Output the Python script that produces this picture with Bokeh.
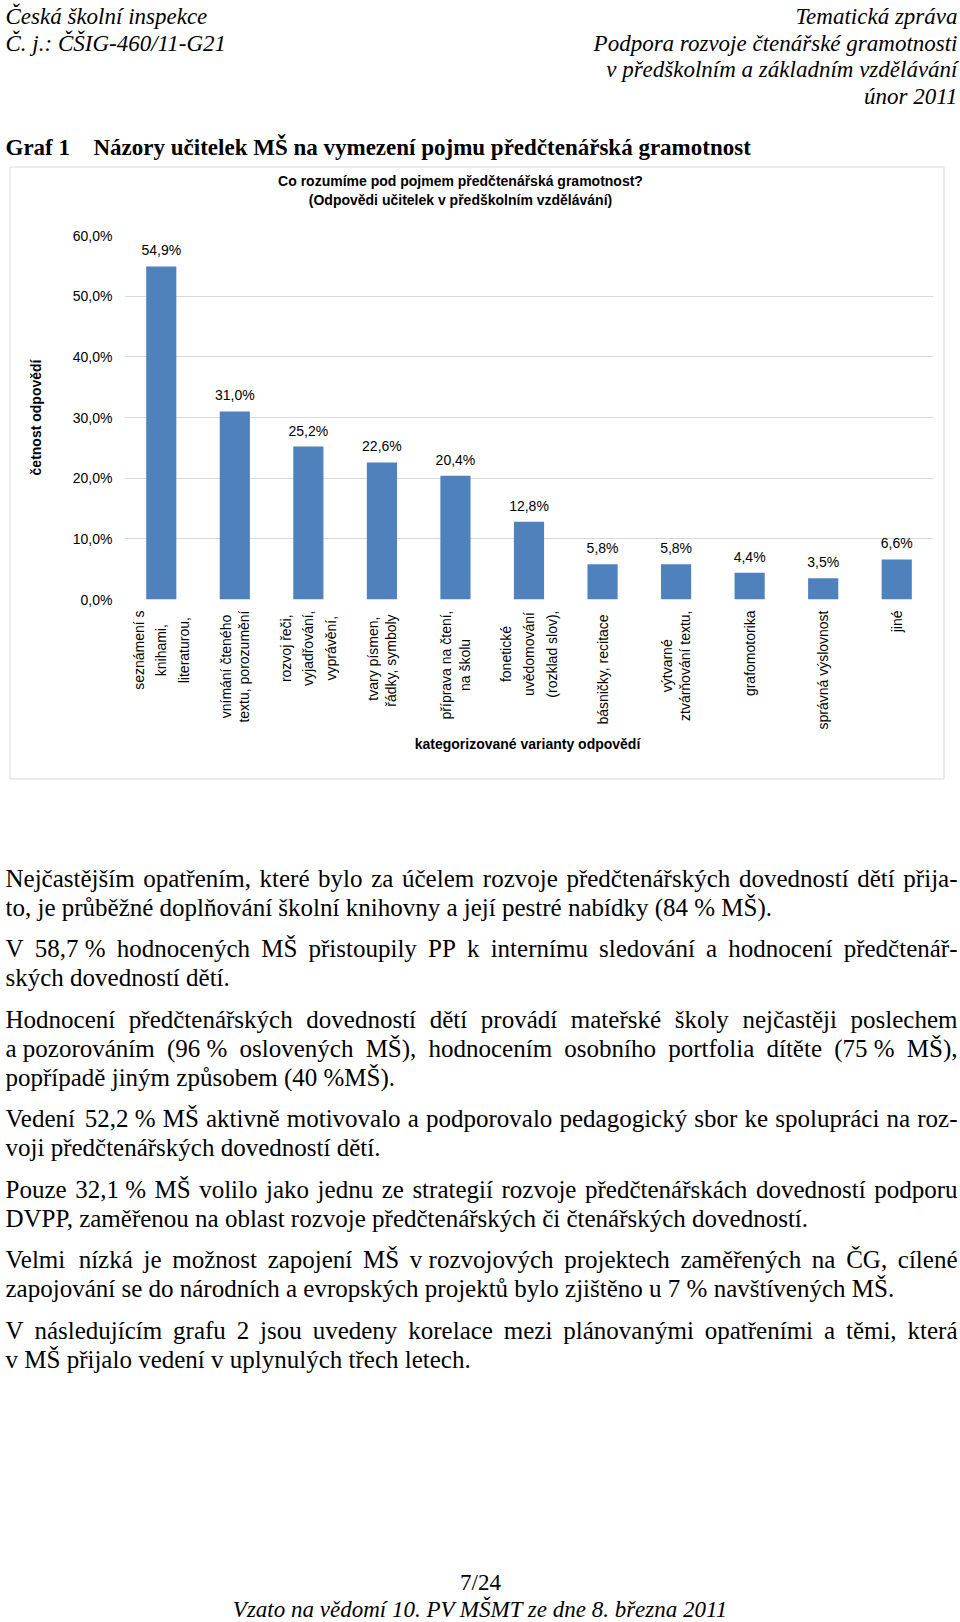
import math
import unicodedata
from bokeh.plotting import figure
from bokeh.models import (Range1d, FixedTicker, ColumnDataSource, CustomJSTickFormatter)
from bokeh.core.properties import value
from bokeh.embed import file_html
from bokeh.resources import INLINE

# ---------------- data ----------------
categories = [
    "seznámení s knihami, literaturou,",
    "vnímání čteného textu, porozumění",
    "rozvoj řeči, vyjadřování, vyprávění,",
    "tvary písmen, řádky, symboly",
    "příprava na čtení, na školu",
    "fonetické uvědomování (rozklad slov),",
    "básničky, recitace",
    "výtvarné ztvárňování textu,",
    "grafomotorika",
    "správná výslovnost",
    "jiné",
]
category_lines = [
    ["seznámení s", "knihami,", "literaturou,"],
    ["vnímání čteného", "textu, porozumění"],
    ["rozvoj řeči,", "vyjadřování,", "vyprávění,"],
    ["tvary písmen,", "řádky,  symboly"],
    ["příprava na čtení,", "na školu"],
    ["fonetické", "uvědomování", "(rozklad slov),"],
    ["básničky,  recitace"],
    ["výtvarné", "ztvárňování textu,"],
    ["grafomotorika"],
    ["správná výslovnost"],
    ["jiné"],
]
values = [54.9, 31.0, 25.2, 22.6, 20.4, 12.8, 5.8, 5.8, 4.4, 3.5, 6.6]
yticks = [0, 10, 20, 30, 40, 50, 60]

chart_title = ["Co rozumíme pod pojmem předčtenářská gramotnost?",
               "(Odpovědi učitelek v předškolním vzdělávání)"]
y_title = "četnost odpovědí"
x_title = "kategorizované varianty odpovědí"

header_left = ["Česká školní inspekce", "Č. j.: ČŠIG-460/11-G21"]
header_right = ["Tematická zpráva", "Podpora rozvoje čtenářské gramotnosti",
                "v předškolním a základním vzdělávání", "únor 2011"]
graf_label = "Graf 1"
graf_title = "Názory učitelek MŠ na vymezení pojmu předčtenářská gramotnost"

NB = "\u00a0"
paragraphs = [
    ["Nejčastějším opatřením, které bylo za účelem rozvoje předčtenářských dovedností dětí přija-",
     "to, je průběžné doplňování školní knihovny a její pestré nabídky (84" + NB + "% MŠ)."],
    ["V 58,7" + NB + "% hodnocených MŠ přistoupily PP k internímu sledování a hodnocení předčtenář-",
     "ských dovedností dětí."],
    ["Hodnocení předčtenářských dovedností dětí provádí mateřské školy nejčastěji poslechem",
     "a" + NB + "pozorováním (96" + NB + "% oslovených MŠ), hodnocením osobního portfolia dítěte (75" + NB + "% MŠ),",
     "popřípadě jiným způsobem (40" + NB + "%MŠ)."],
    ["Vedení 52,2" + NB + "% MŠ aktivně motivovalo a podporovalo pedagogický sbor ke spolupráci na roz-",
     "voji předčtenářských dovedností dětí."],
    ["Pouze 32,1" + NB + "% MŠ volilo jako jednu ze strategií rozvoje předčtenářskách dovedností podporu",
     "DVPP, zaměřenou na oblast rozvoje předčtenářských či čtenářských dovedností."],
    ["Velmi nízká je možnost zapojení MŠ v" + NB + "rozvojových projektech zaměřených na ČG, cílené",
     "zapojování se do národních a evropských projektů bylo zjištěno u 7" + NB + "% navštívených MŠ."],
    ["V následujícím grafu 2 jsou uvedeny korelace mezi plánovanými opatřeními a těmi, která",
     "v" + NB + "MŠ přijalo vedení v uplynulých třech letech."],
]
page_number = "7/24"
footer = "Vzato na vědomí 10. PV MŠMT ze dne 8. března 2011"

# ---------------- layout constants (page pixels; canvas starts at 0,0) ----------------
W, H = 960, 1622
FL, FR, FT, FB = 124, 933, 235, 599
BAR = "#4f81bd"
GRID = "#d9d9d9"
SANS = "Liberation Sans"
SERIF = "Liberation Serif"

# Times New Roman advance widths (1/1000 em), Liberation Serif is metric compatible
TNR = {' ': 250, NB: 250, '!': 333, '%': 833, '(': 333, ')': 333, ',': 250, '-': 333,
       '.': 250, '/': 278, ':': 278, '?': 444}
for d in "0123456789":
    TNR[d] = 500
TNR.update(dict(zip("ABCDEFGHIJKLMNOPQRSTUVWXYZ",
                    [722, 667, 667, 722, 611, 556, 722, 722, 333, 389, 722, 611, 889,
                     722, 722, 556, 722, 667, 556, 611, 722, 722, 944, 722, 722, 611])))
TNR.update(dict(zip("abcdefghijklmnopqrstuvwxyz",
                    [444, 500, 444, 500, 444, 333, 500, 500, 278, 278, 500, 278, 778,
                     500, 500, 500, 500, 333, 389, 278, 500, 500, 722, 500, 500, 444])))
SPECIAL = {'ď': 588, 'ť': 326}


def tnr_width(s, size):
    tot = 0
    for ch in s:
        if ch in SPECIAL:
            tot += SPECIAL[ch]
            continue
        base = unicodedata.normalize("NFD", ch)[0]
        tot += TNR.get(base, 500)
    return tot * size / 1000.0


# ---------------- figure ----------------
n = len(categories)
xpos = [i + 0.5 for i in range(n)]   # category slots on the x scale

p = figure(width=W, height=H, x_range=Range1d(0, n), y_range=Range1d(0, 60),
           output_backend="svg", toolbar_location=None, x_axis_location=None,
           min_border_left=FL, min_border_right=W - FR,
           min_border_top=FT, min_border_bottom=H - FB)
p.extra_x_ranges = {"px": Range1d(FL, FR)}
p.extra_y_ranges = {"px": Range1d(FB, FT)}
p.outline_line_color = None
p.background_fill_color = "white"
p.border_fill_color = "white"
p.xgrid.visible = False
p.ygrid.ticker = FixedTicker(ticks=yticks)
p.ygrid.grid_line_color = GRID
p.ygrid.grid_line_width = 1

ax = p.yaxis[0]
ax.ticker = FixedTicker(ticks=yticks)
ax.formatter = CustomJSTickFormatter(code="return tick.toFixed(1).replace('.', ',') + '%';")
ax.axis_line_color = None
ax.major_tick_line_color = None
ax.minor_tick_line_color = None
ax.major_tick_out = 0
ax.major_tick_in = 0
ax.major_label_standoff = 12
ax.major_label_text_font = SANS
ax.major_label_text_font_size = "14px"
ax.major_label_text_color = "#000000"
ax.axis_label = y_title
ax.axis_label_text_font = SANS
ax.axis_label_text_font_size = "14px"
ax.axis_label_text_font_style = "bold"
ax.axis_label_text_color = "#000000"
ax.axis_label_standoff = 26

# outer chart box
p.quad(left=9.5, right=943.5, top=166.5, bottom=778.5, fill_color=None, line_color=GRID,
       line_width=1, x_range_name="px", y_range_name="px", level="overlay")

# bars
src = ColumnDataSource(dict(x=xpos, cat=categories, val=values,
                            lab=[f"{v:.1f}".replace(".", ",") + "%" for v in values]))
p.vbar(x="x", top="val", width=0.41, source=src, fill_color=BAR, line_color=None)
p.text(x="x", y="val", text="lab", source=src, text_align="center", text_baseline="middle",
       y_offset=-16, text_font=value(SANS), text_font_size="14px", text_color="#000000",
       level="overlay")

# category labels (rotated)
for nlines, lh in ((3, 1.42), (2, 1.15), (1, 1.15)):
    idx = [i for i, l in enumerate(category_lines) if len(l) == nlines]
    if not idx:
        continue
    s = ColumnDataSource(dict(x=[xpos[i] for i in idx], y=[0] * len(idx),
                              lab=["\n".join(category_lines[i]) for i in idx]))
    p.text(x="x", y="y", text="lab", source=s, angle=math.pi / 2, anchor="center_right",
           text_align="center", text_baseline="middle", y_offset=11,
           text_font=value(SANS), text_font_size="14px", text_color="#000000",
           text_line_height=lh, level="overlay")


def page_text(xs, ys, texts, align="left", baseline="alphabetic", font=SERIF, size="23px",
              style="normal"):
    s = ColumnDataSource(dict(x=xs, y=ys, t=texts))
    p.text(x="x", y="y", text="t", source=s, text_align=align, text_baseline=baseline,
           text_font=value(font), text_font_size=size, text_font_style=style,
           text_color="#000000", x_range_name="px", y_range_name="px", level="overlay")


# header
page_text([5, 5], [16, 42.5], header_left, style="italic")
page_text([957] * 4, [16, 42.5, 69, 95.5], header_right, align="right", style="italic")
page_text([5, 93], [147, 147], [graf_label, graf_title], style="bold")

# chart titles
page_text([460, 460], [180, 199], chart_title, align="center", baseline="middle",
          font=SANS, size="14px", style="bold")
page_text([527], [743], [x_title], align="center", baseline="middle",
          font=SANS, size="14px", style="bold")

# body text (justified)
BODY = 25
X0, X1 = 5, 957
para_top = [878, 947.5, 1018.5, 1117.5, 1188.5, 1258.5, 1329.5]
LS = 29
jx, jy, jt, rx, ry, rt = [], [], [], [], [], []
for top, lines in zip(para_top, paragraphs):
    for k, line in enumerate(lines):
        y = top + k * LS
        if k == len(lines) - 1:
            jx.append(X0); jy.append(y); jt.append(line)
            continue
        words = line.split(" ")
        ws = [tnr_width(w, BODY) for w in words]
        gap = (X1 - X0 - sum(ws)) / (len(words) - 1)
        gap = max(gap, 0.15 * BODY)
        x = X0
        for w, wd in zip(words[:-1], ws[:-1]):
            jx.append(x); jy.append(y); jt.append(w)
            x += wd + gap
        rx.append(X1); ry.append(y); rt.append(words[-1])
page_text(jx, jy, jt, size=f"{BODY}px")
page_text(rx, ry, rt, align="right", size=f"{BODY}px")

# footer
page_text([480], [1582], [page_number], align="center")
page_text([480], [1609], [footer], align="center", style="italic")

open("out.html", "w").write(file_html(p, INLINE))
